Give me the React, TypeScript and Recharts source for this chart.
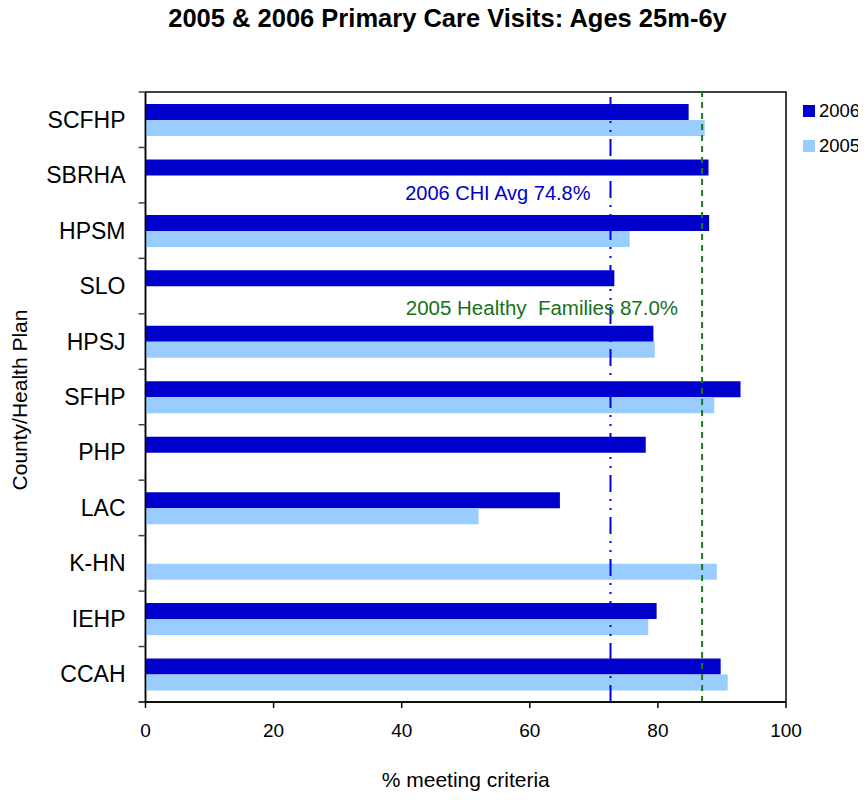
import { BarChart, Bar, XAxis, YAxis, ReferenceLine, ReferenceArea, Label } from "recharts";

const plans = ["SCFHP", "SBRHA", "HPSM", "SLO", "HPSJ", "SFHP", "PHP", "LAC", "K-HN", "IEHP", "CCAH"];
const visits2006 = [84.8, 87.9, 88.0, 73.2, 79.3, 92.9, 78.1, 64.7, null, 79.8, 89.8];
const visits2005 = [87.3, null, 75.6, null, 79.5, 88.8, null, 52.0, 89.2, 78.5, 90.9];
const xTicks = [0, 20, 40, 60, 80, 100];

// where the two benchmark lines sit in the picture, and their captions
const chiLine = 72.6;
const chiText = "2006 CHI Avg 74.8%";
const hfLine = 86.9;
const hfText = "2005 Healthy \u00a0Families 87.0%";

const series = [
  { key: "y2006", name: "2006", color: "#0000CC" },
  { key: "y2005", name: "2005", color: "#99CCFF" },
];

const rows = plans.map((plan, i) => ({ plan, y2006: visits2006[i], y2005: visits2005[i] }));

const FONT = "'Liberation Sans', Arial, Helvetica, sans-serif";

// category label plus an Excel-style tick mark on the band edges
function PlanTick(p: any) {
  const { x, y, payload, index } = p;
  const half = payload?.offset ?? 0;
  return (
    <g>
      <line x1={x - 7} x2={x} y1={y - half} y2={y - half} stroke="#444" strokeWidth={1.5} />
      {index === plans.length - 1 && <line x1={x - 7} x2={x} y1={y + half} y2={y + half} stroke="#000" strokeWidth={1.5} />}
      <text x={x - 20} y={y} textAnchor="end" dominantBaseline="central" fontSize={23} fill="#000">
        {payload.value}
      </text>
    </g>
  );
}

export default function App() {
  return (
    <div style={{ position: "relative", width: 850, height: 784, fontFamily: FONT }}>
      <div style={{ position: "absolute", left: 139.5, top: -3, width: 600, textAlign: "center", fontSize: 25.5, fontWeight: "bold", lineHeight: "26px", color: "#000" }}>
        2005 &amp; 2006 Primary Care Visits: Ages 25m-6y
      </div>

      <BarChart
        layout="vertical"
        width={850}
        height={784}
        data={rows}
        margin={{ top: 84, right: 72, bottom: 0, left: 7.5 }}
        barGap={0}
        barSize={16}
        style={{ fontFamily: FONT }}
      >
        <YAxis
          yAxisId="cat"
          type="category"
          dataKey="plan"
          width={130}
          tickSize={0}
          tickMargin={0}
          tickLine={false}
          interval={0}
          axisLine={{ stroke: "#000", strokeWidth: 1.5 }}
          tick={<PlanTick />}
        >
          <Label
            content={() => (
              <text x={11} y={392} transform="rotate(-90 11 392)" textAnchor="middle" dominantBaseline="central" fontSize={21} fill="#000">
                County/Health Plan
              </text>
            )}
          />
        </YAxis>
        <XAxis
          type="number"
          domain={[0, 100]}
          ticks={xTicks}
          interval={0}
          height={90}
          tickSize={6}
          tickMargin={16}
          axisLine={{ stroke: "#000", strokeWidth: 1.5 }}
          tickLine={{ stroke: "#000", strokeWidth: 1.5 }}
          tick={{ fill: "#000", fontSize: 19 }}
        >
          <Label
            content={(p: any) => {
              const vb = p.viewBox || {};
              return (
                <text x={vb.x + vb.width / 2} y={vb.y + vb.height - 5} textAnchor="middle" fontSize={21} fill="#000">
                  % meeting criteria
                </text>
              );
            }}
          />
        </XAxis>

        <ReferenceArea yAxisId="cat" x1={0} x2={100} fill="none" stroke="#000" strokeWidth={1.5} ifOverflow="visible" />

        {series.map((s) => (
          <Bar key={s.key} yAxisId="cat" dataKey={s.key} name={s.name} fill={s.color} isAnimationActive={false} />
        ))}

        <ReferenceLine
          yAxisId="cat"
          x={chiLine}
          stroke="#0000DD"
          strokeWidth={2}
          strokeDasharray="17 7 2 7 2 7"
          label={(p: any) => {
            const vb = p.viewBox || {};
            return (
              <text x={vb.x - 20} y={vb.y + 101} textAnchor="end" dominantBaseline="central" fontSize={20} fill="#0000CC">
                {chiText}
              </text>
            );
          }}
        />
        <ReferenceLine
          yAxisId="cat"
          x={hfLine}
          stroke="#1B7A1B"
          strokeWidth={2}
          strokeDasharray="6 5"
          label={(p: any) => {
            const vb = p.viewBox || {};
            return (
              <text x={vb.x - 24} y={vb.y + 215} textAnchor="end" dominantBaseline="central" fontSize={20.5} fill="#187018">
                {hfText}
              </text>
            );
          }}
        />
      </BarChart>

      <div style={{ position: "absolute", left: 795, top: 85.5, width: 55, whiteSpace: "nowrap" }}>
        {series.map((s) => (
          <div key={s.key} style={{ display: "flex", alignItems: "center", height: 35 }}>
            <span style={{ display: "inline-block", flex: "none", width: 12, height: 12, background: s.color, marginRight: 4 }} />
            <span style={{ fontSize: 18.5, color: "#000" }}>{s.name}</span>
          </div>
        ))}
      </div>
    </div>
  );
}
